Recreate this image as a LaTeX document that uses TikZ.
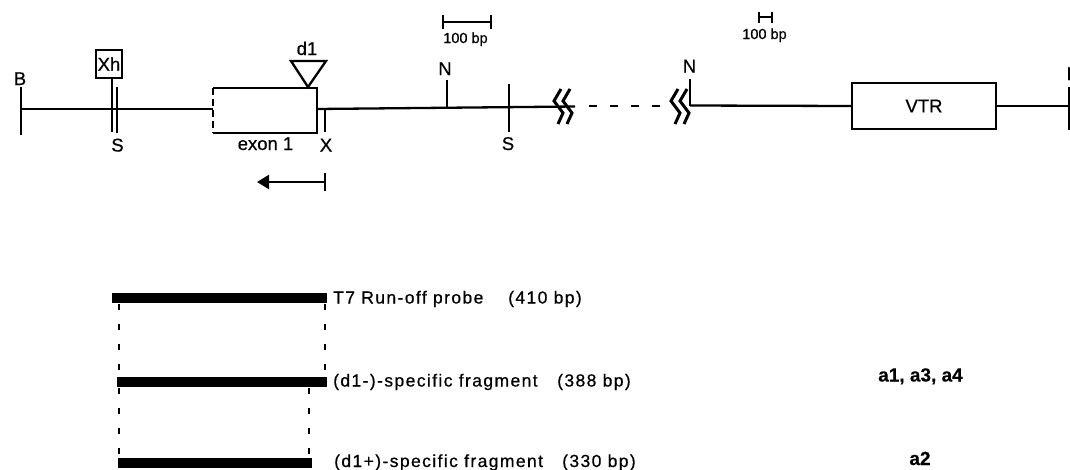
\documentclass[tikz,border=0pt]{standalone}
\usepackage{fontspec}
\setmainfont[FakeBold=0.6]{Liberation Sans}
\newfontfamily\lowfont[LetterSpace=8,FakeBold=0.6]{Liberation Sans}
\newfontfamily\boldfont[FakeBold=0.3]{Liberation Sans Bold}
\usetikzlibrary{arrows.meta}
\newcommand\toplab{\fontsize{18.5}{20}\selectfont}
\newcommand\smalllab{\fontsize{14.5}{16}\selectfont}
\newcommand\lowlab{\lowfont\fontsize{17.5}{19}\selectfont}
\newcommand\boldlab{\boldfont\fontsize{19}{21}\selectfont}
\begin{document}
\begin{tikzpicture}[x=1pt,y=-1pt,
  dna/.style={line width=2.3pt},
  tickline/.style={line width=2.3pt},
  lab/.style={font=\toplab,inner sep=0pt,anchor=base},
  sml/.style={font=\smalllab,inner sep=0pt,anchor=base},
  low/.style={font=\lowlab,inner sep=0pt,anchor=base west},
  boldl/.style={font=\boldlab,inner sep=0pt,anchor=base},
  bar/.style={line width=10pt},
  guide/.style={line width=2.2pt,dash pattern=on 6pt off 14pt},
  brk/.style={line width=3pt,line join=miter},
  boxn/.style={draw,line width=2.3pt,inner sep=0pt}]
\useasboundingbox (0,0) rectangle (1070,469);

% ---------- left part of the map ----------
\coordinate (Bl) at (21,109);
\coordinate (Blt) at (21,87);
\coordinate (Blb) at (21,135);
\draw[tickline] (Blt) -- (Blb);
\node[lab] (Blab) at (20,85) {B};

\coordinate (exTL) at (213,88);
\coordinate (exTR) at (317,88);
\coordinate (exBR) at (317,133);
\coordinate (exBL) at (213,133);
\coordinate (exL) at (213,109);
\coordinate (exR) at (317,109);
\draw[dna] (Bl) -- (exL);
\draw[dna] (exTL) -- (exTR) -- (exBR) -- (exBL);
\draw[dna,dash pattern=on 7pt off 4pt] (exTL) -- (exBL);
\node[lab] (exlab) at (265.5,150) {exon 1};

% Xh site with S
\node[boxn,font=\toplab,minimum width=26pt,minimum height=28pt] (Xh) at (109,64) {Xh};
\coordinate (XhEnd) at (112,132);
\draw[tickline] (XhEnd |- Xh.south) -- (XhEnd);
\coordinate (S1t) at (117,87);
\coordinate (S1b) at (117,133);
\draw[tickline] (S1t) -- (S1b);
\node[lab] (S1lab) at (117.5,151.5) {S};

% d1 triangle
\coordinate (d1a) at (291,61);
\coordinate (d1b) at (326,61);
\coordinate (d1c) at (308,87);
\draw[dna,line join=miter] (d1a) -- (d1b) -- (d1c) -- cycle;
\node[lab] (d1lab) at (307,55) {d1};

% X site
\coordinate (Xt) at (325,109);
\coordinate (Xb) at (325,132);
\draw[tickline] (Xt) -- (Xb);
\node[lab] (Xlab) at (326,151.5) {X};

% line to the first break
\coordinate (brk1) at (575,106.5);
\draw[dna] (exR) -- (brk1);

% N site
\coordinate (N1t) at (447,80);
\coordinate (N1b) at (447,108.5);
\draw[tickline] (N1t) -- (N1b);
\node[lab] (N1lab) at (445,75) {N};

% S site
\coordinate (S2t) at (509,84);
\coordinate (S2b) at (509,132);
\draw[tickline] (S2t) -- (S2b);
\node[lab] (S2lab) at (508,150) {S};

% scale bar 1
\coordinate (sb1l) at (443,22);
\coordinate (sb1r) at (491,22);
\draw[tickline] (sb1l) -- (sb1r);
\draw[tickline] (443,15) -- (443,29);
\draw[tickline] (491,15) -- (491,29);
\node[sml] (sb1lab) at (465.5,43) {100 bp};

% break symbols
\begin{scope}[shift={(554,106)}]
  \foreach \dx in {0,9}
    \draw[brk] ({7+\dx},-17) -- ({\dx},-5) -- ({9+\dx},7) -- ({4+\dx},18);
\end{scope}
\begin{scope}[shift={(671,106)}]
  \foreach \dx in {0,9}
    \draw[brk] ({7+\dx},-17) -- ({\dx},-5) -- ({9+\dx},7) -- ({4+\dx},18);
\end{scope}

% dashed gap
\coordinate (gapL) at (589,106);
\coordinate (gapR) at (662,106);
\draw[dna,dash pattern=on 8pt off 13pt] (gapL) -- (gapR);

% ---------- right part ----------
\coordinate (N2t) at (690,79);
\coordinate (N2b) at (690,105.5);
\draw[tickline] (N2t) -- (N2b);
\node[lab] (N2lab) at (689.5,72.5) {N};

\node[boxn,font=\toplab,minimum width=144pt,minimum height=46pt] (VTR) at (924,106) {VTR};
\draw[dna] (N2b) -- (VTR.west);
\coordinate (Rend) at (1070,106);
\draw[dna] (VTR.east) -- (Rend);
\coordinate (Brt) at (1069,87);
\coordinate (Brb) at (1069,130);
\draw[tickline] (Brt) -- (Brb);
\node[lab,anchor=base west] (Brlab) at (1066.5,80) {B};

% scale bar 2
\coordinate (sb2l) at (759,17);
\coordinate (sb2r) at (772,17);
\draw[tickline] (sb2l) -- (sb2r);
\draw[tickline] (759,12) -- (759,23);
\draw[tickline] (772,12) -- (772,23);
\node[sml] (sb2lab) at (764.5,39) {100 bp};

% probe direction arrow
\coordinate (arR) at (325,182);
\coordinate (arL) at (257,182);
\draw[tickline,-{Triangle[length=12pt,width=14pt]}] (arR) -- (arL);
\draw[tickline] (325,173) -- (325,191);

% ---------- fragments ----------
\coordinate (p1l) at (112,298);
\coordinate (p1r) at (327,298);
\coordinate (p2l) at (117,382);
\coordinate (p2r) at (327,382);
\coordinate (p3l) at (118,463);
\coordinate (p3r) at (312,463);
\draw[bar] (p1l) -- (p1r);
\draw[bar] (p2l) -- (p2r);
\draw[bar] (p3l) -- (p3r);

\draw[guide] (119,304) -- (119,377);
\draw[guide] (325,304) -- (325,377);
\draw[guide] (119,388) -- (119,458);
\draw[guide] (309,388) -- (309,458);

\node[low] (t1) at (333,303.5) {T7 Run-off probe};
\node[low] (t1b) at (508,303.5) {(410 bp)};
\node[low] (t2) at (333,386.5) {(d1-)-specific fragment};
\node[low] (t2b) at (557,386.5) {(388 bp)};
\node[low] (t3) at (334,467) {(d1+)-specific fragment};
\node[low] (t3b) at (562,467) {(330 bp)};

\node[boldl] (a134) at (920.5,381.5) {a1, a3, a4};
\node[boldl] (a2) at (920,465) {a2};
\end{tikzpicture}
\end{document}
